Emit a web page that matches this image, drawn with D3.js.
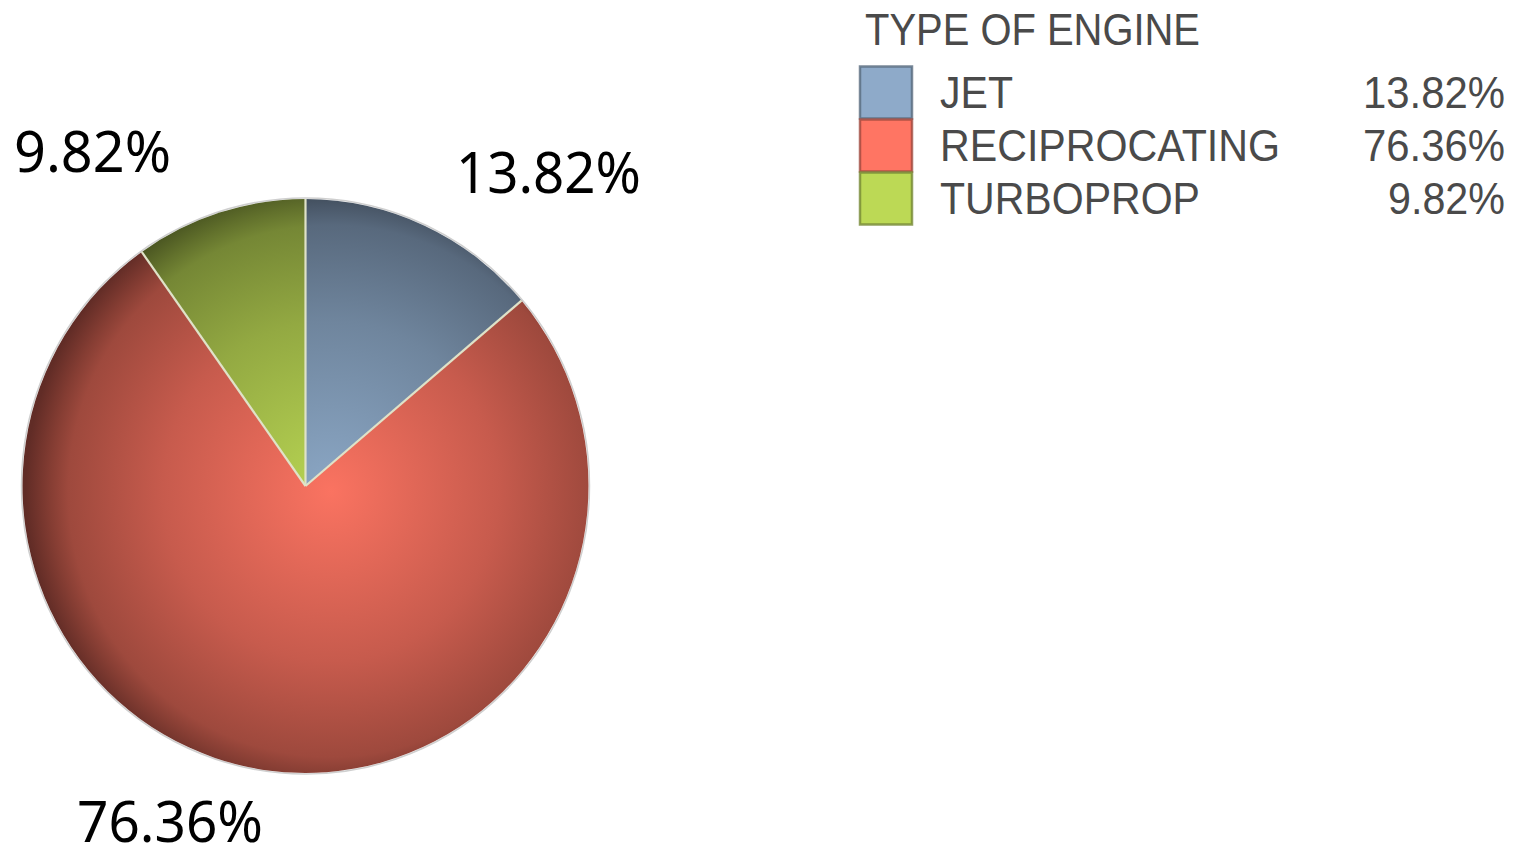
<!DOCTYPE html>
<html><head><meta charset="utf-8">
<script src="https://cdn.jsdelivr.net/npm/d3@7"></script>
<style>html,body{margin:0;padding:0;background:#fff;}svg{display:block;}</style>
</head><body>
<svg id="chart" width="1516" height="848"></svg>
<script>
const categories = ["JET", "RECIPROCATING", "TURBOPROP"];
const values = [13.82, 76.36, 9.82];
const valueLabels = ["13.82%", "76.36%", "9.82%"];
const colors = ["#8eaac9", "#ff7563", "#bcd955"];
const legendTitle = "TYPE OF ENGINE";

const svg = d3.select("#chart");
const cx = 305.5, cy = 486, R = 283, sy = 1.014;
const defs = svg.append("defs");

const pie = d3.pie().sort(null).value(d => d.v);
const arcs = pie(categories.map((c, i) => ({c, v: values[i], col: colors[i], lab: valueLabels[i]})));

arcs.forEach((a, i) => {
  const base = d3.color(a.data.col);
  const g = defs.append("radialGradient").attr("id", "g" + i)
    .attr("gradientUnits", "userSpaceOnUse")
    .attr("cx", cx + 25).attr("cy", cy + 5).attr("fx", cx + 25).attr("fy", cy + 5).attr("r", R + 22);
  const mk = k => { const c = d3.rgb(base); return d3.rgb(c.r * k, c.g * k, c.b * k).formatHex(); };
  g.append("stop").attr("offset", 0).attr("stop-color", mk(0.98));
  g.append("stop").attr("offset", 0.55).attr("stop-color", mk(0.78));
  g.append("stop").attr("offset", 0.86).attr("stop-color", mk(0.62));
  g.append("stop").attr("offset", 0.92).attr("stop-color", mk(0.52));
  g.append("stop").attr("offset", 1).attr("stop-color", mk(0.38));
});

const pg = svg.append("g")
  .attr("transform", `translate(0,${cy}) scale(1,${sy}) translate(0,${-cy})`);

// faint shadow ring
pg.append("circle").attr("cx", cx).attr("cy", cy).attr("r", R + 1)
  .attr("fill", "none").attr("stroke", "#cfcfcf").attr("stroke-width", 1.5);

pg.selectAll("path.slice").data(arcs).join("path").attr("class", "slice")
  .attr("fill", (d, i) => `url(#g${i})`)
  .attr("d", d => {
    const p = d3.path();
    const a0 = d.startAngle - Math.PI / 2, a1 = d.endAngle - Math.PI / 2;
    p.moveTo(cx, cy);
    p.lineTo(cx + R * Math.cos(a0), cy + R * Math.sin(a0));
    p.arc(cx, cy, R, a0, a1);
    p.closePath();
    return p.toString();
  });

// separator lines
pg.selectAll("line.sep").data(arcs).join("line").attr("class", "sep")
  .attr("x1", cx).attr("y1", cy)
  .attr("x2", d => cx + R * Math.sin(d.startAngle))
  .attr("y2", d => cy - R * Math.cos(d.startAngle))
  .attr("stroke", "#dfe2c8").attr("stroke-width", 2.2);

// pie labels
const labelPos = [
  {x: 456, y: 193, w: 185},
  {x: 77, y: 842, w: 186},
  {x: 14, y: 172, w: 157}
];
svg.selectAll("text.plabel").data(arcs).join("text").attr("class", "plabel")
  .attr("x", (d, i) => labelPos[i].x).attr("y", (d, i) => labelPos[i].y)
  .attr("textLength", (d, i) => labelPos[i].w).attr("lengthAdjust", "spacingAndGlyphs")
  .style("font-family", "'Noto Sans', 'Open Sans', sans-serif").style("font-size", "57px")
  .attr("fill", "#000").text(d => d.data.lab);

// legend
const lg = svg.append("g");
lg.append("text").attr("x", 865).attr("y", 45).text(legendTitle)
  .attr("textLength", 335).attr("lengthAdjust", "spacingAndGlyphs")
  .style("font-family", "'Liberation Sans', Arial, sans-serif").style("font-size", "45px")
  .attr("fill", "#4a4a4a");

const ly = d3.scaleBand().domain(categories).range([66, 225]);
const rows = lg.selectAll("g.row").data(categories).join("g").attr("class", "row");
rows.append("rect").attr("x", 860).attr("y", d => ly(d) + 0.5)
  .attr("width", 52).attr("height", ly.bandwidth() - 1)
  .attr("fill", (d, i) => colors[i])
  .attr("stroke", (d, i) => d3.color(colors[i]).darker(1.3).formatHex())
  .attr("stroke-opacity", 0.8).attr("stroke-width", 2.5);
const nameW = [73, 340, 260];
rows.append("text").attr("x", 940).attr("y", d => ly(d) + 42)
  .attr("textLength", (d, i) => nameW[i]).attr("lengthAdjust", "spacingAndGlyphs")
  .style("font-family", "'Liberation Sans', Arial, sans-serif").style("font-size", "45px")
  .attr("fill", "#4a4a4a").text(d => d);
const valW = [142, 142, 117];
rows.append("text").attr("x", 1505).attr("y", d => ly(d) + 42)
  .attr("text-anchor", "end")
  .attr("textLength", (d, i) => valW[i]).attr("lengthAdjust", "spacingAndGlyphs")
  .style("font-family", "'Liberation Sans', Arial, sans-serif").style("font-size", "45px")
  .attr("fill", "#4a4a4a").text((d, i) => valueLabels[i]);
</script>
</body></html>
